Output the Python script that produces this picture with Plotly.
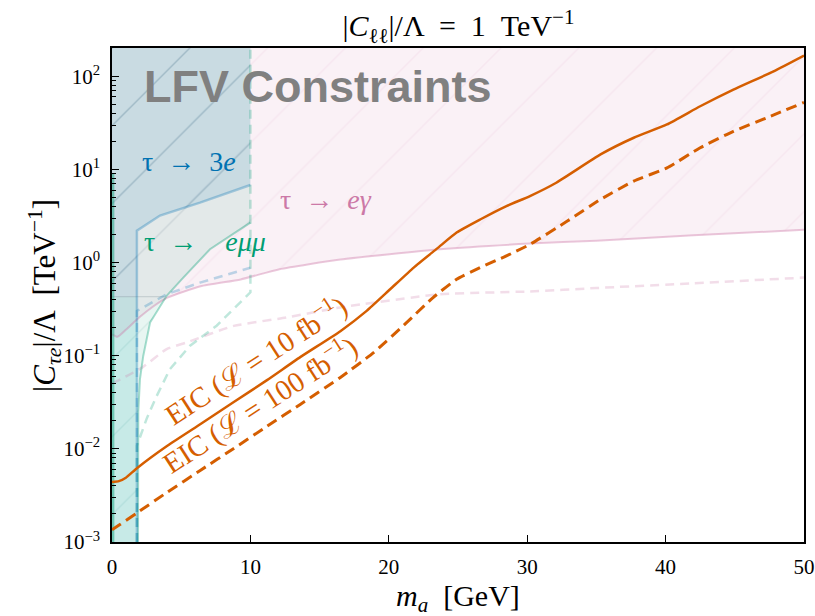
import numpy as np
import plotly.graph_objects as go

# ---------------- data ----------------
Y_BOTTOM = 1e-3
Y_TOP = 1e3  # regions extend beyond the top of the axes

# EIC projected sensitivity, L = 10 fb^-1 (solid)
m_eic10 = [0, 0.5, 1.0, 1.8, 4.0, 6.4, 8.8, 11.2, 13.6, 16.5, 18.4, 20.1, 21.8, 23.5,
           24.9, 26.6, 28.5, 30.2, 32.1, 35.3, 37.7, 40.1, 42.5, 44.9, 47.8, 50]
c_eic10 = [4.4e-3, 4.5e-3, 4.9e-3, 6.2e-3, 1.08e-2, 1.85e-2, 3.18e-2, 5.47e-2, 9.66e-2,
           0.1835, 0.303, 0.517, 0.884, 1.42, 2.1, 2.9, 4.04, 5.18, 7.2, 14.5,
           21.9, 30.4, 47.7, 72, 113, 167]

# EIC projected sensitivity, L = 100 fb^-1 (dashed)
m_eic100 = [0, 0.6, 1.8, 4.0, 6.4, 8.8, 11.2, 13.6, 16.5, 18.9, 21.3, 23.2, 24.9, 26.6,
            28.5, 30.2, 32.9, 35.3, 37.7, 40.1, 42.5, 44.9, 47.3, 50]
c_eic100 = [1.35e-3, 1.55e-3, 2.05e-3, 3.43e-3, 5.9e-3, 1.01e-2, 1.75e-2, 3.0e-2, 5.85e-2,
            0.108, 0.228, 0.421, 0.662, 0.884, 1.18, 1.57, 2.79, 4.77, 7.5, 10.4,
            17.1, 25.7, 35.8, 52.5]

# tau -> e gamma: current bound (solid) and projection (dashed)
m_eg = [0, 0.4, 1.0, 2.0, 3.0, 4.0, 6.4, 9.3, 12.1, 16.5, 23.7, 30.2, 35, 42, 50]
c_eg = [0.17, 0.16, 0.19, 0.26, 0.34, 0.42, 0.557, 0.66, 0.85, 1.08, 1.39, 1.6,
        1.72, 1.96, 2.25]
m_eg_proj = [0, 2.2, 3.95, 5.4, 8.8, 12.6, 16.5, 23.7, 30.2, 35, 42, 50]
c_eg_proj = [0.05, 0.075, 0.118, 0.139, 0.209, 0.257, 0.33, 0.457, 0.49, 0.533,
             0.6, 0.69]

# tau -> e mu mu: current bound (solid) and projection (dashed)
m_emm = [1.88, 1.9, 2.02, 2.26, 2.75, 3.95, 5.15, 7.08, 9.25, 10]
c_emm = [1e-3, 0.025, 0.056, 0.1, 0.227, 0.44, 0.69, 1.39, 2.27, 2.68]
m_emm_edge = [0.06, 0.06]
c_emm_edge = [1e-3, 9.0]
m_emm_proj = [1.8, 1.8, 2.5, 3.23, 4.19, 5.64, 7.56, 10, 10]
c_emm_proj = [1e-3, 0.0108, 0.021, 0.037, 0.072, 0.128, 0.21, 0.48, Y_TOP]

# tau -> 3e: current bound (solid) and projection (dashed)
m_3e = [1.8, 1.8, 3.47, 6.36, 10]
c_3e = [1e-3, 2.2, 3.2, 4.4, 6.8]
m_3e_proj = [1.8, 1.8, 3.95, 6.36, 10]
c_3e_proj = [1e-3, 0.303, 0.457, 0.61, 0.88]
c_3e_low = 0.43   # lower edge of the tau->3e band at small m_a

x_ticks = [0, 10, 20, 30, 40, 50]
y_ticks = [1e-3, 1e-2, 1e-1, 1e0, 1e1, 1e2]
y_ticktext = ["10<sup>−3</sup>", "10<sup>−2</sup>", "10<sup>−1</sup>",
              "10<sup>0</sup>", "10<sup>1</sup>", "10<sup>2</sup>"]
y_minor = [k * 10.0 ** e for e in range(-3, 3) for k in range(2, 10) if k * 10.0 ** e < 200]

# ---------------- styling ----------------
BLUE = "0,114,178"
ORANGE = "#D55E00"
GREEN = "0,158,115"
PINK = "204,121,167"
SERIF = "Liberation Serif, DejaVu Serif, serif"
HATCH = dict(shape="/", size=55, solidity=0.025)

fig = go.Figure()


def poly(xs, ys, fill, hatch_fg=None):
    fig.add_trace(go.Scatter(x=xs, y=ys, mode="lines", line=dict(width=0),
                             fill="toself", fillcolor=fill, hoverinfo="skip",
                             showlegend=False))
    if hatch_fg:
        fig.add_trace(go.Scatter(x=xs, y=ys, mode="lines", line=dict(width=0),
                                 fill="toself", fillcolor="rgba(0,0,0,0)",
                                 fillpattern=dict(**HATCH, fgcolor=hatch_fg,
                                                  bgcolor="rgba(0,0,0,0)"),
                                 hoverinfo="skip", showlegend=False))


def line(xs, ys, color, width, dash="solid", shape="linear"):
    fig.add_trace(go.Scatter(x=xs, y=ys, mode="lines",
                             line=dict(color=color, width=width, dash=dash,
                                       shape=shape, smoothing=0.5),
                             hoverinfo="skip", showlegend=False))


# tau -> e gamma region
poly(m_eg + [m_eg[-1], m_eg[0]], c_eg + [Y_TOP, Y_TOP], f"rgba({PINK},0.10)",
     f"rgba({PINK},0.18)")
# tau -> e mu mu region
poly([0] + m_emm + [m_emm[-1], 0], [Y_BOTTOM] + c_emm + [Y_TOP, Y_TOP],
     f"rgba({GREEN},0.09)", f"rgba(0,110,90,0.18)")
# small-mass band
poly([0, m_3e[0], m_3e[0], 0], [Y_BOTTOM, Y_BOTTOM, c_3e_low, c_3e_low],
     "rgba(0,160,170,0.14)")
# tau -> 3e region
poly([0, m_3e[1]] + m_3e[1:] + [m_3e[-1], 0],
     [c_3e_low, c_3e_low] + c_3e[1:] + [Y_TOP, Y_TOP],
     f"rgba({BLUE},0.115)", "rgba(0,50,90,0.22)")

# boundary lines
line(m_eg_proj, c_eg_proj, f"rgba({PINK},0.25)", 2.5, "9px,6px", "spline")
line(m_eg, c_eg, f"rgba({PINK},0.40)", 2, "solid", "spline")
line(m_emm_edge, c_emm_edge, f"rgba({GREEN},0.45)", 3)
line(m_emm, c_emm, f"rgba({GREEN},0.35)", 2)
line(m_emm_proj, c_emm_proj, f"rgba({GREEN},0.25)", 2.5, "9px,6px")
line([0, 3.8], [c_3e_low, c_3e_low], "rgba(90,110,120,0.25)", 1)
line(m_3e, c_3e, f"rgba({BLUE},0.30)", 2.5)
line(m_3e_proj, c_3e_proj, f"rgba({BLUE},0.25)", 2.5, "9px,6px")

# EIC curves
line(m_eic10, c_eic10, ORANGE, 2.5, "solid", "spline")
line(m_eic100, c_eic100, ORANGE, 3, "11px,6px", "spline")

lg = np.log10
annotations = [
    dict(x=2.15, y=lg(77), text="<b>LFV Constraints</b>", xanchor="left",
         font=dict(family="Liberation Sans, Arial, sans-serif", size=45, color="#808080")),
    dict(x=2.0, y=lg(12.3), text="τ  →  3<i>e</i>", xanchor="left",
         font=dict(family=SERIF, size=28, color="#0072B2")),
    dict(x=2.15, y=lg(1.7), text="τ  →    <i>eμμ</i>", xanchor="left",
         font=dict(family=SERIF, size=28, color="#009E73")),
    dict(x=12.0, y=lg(4.8), text="τ  →  <i>eγ</i>", xanchor="left",
         font=dict(family=SERIF, size=28, color="#CC79A7")),
    dict(x=10.3, y=lg(0.092), text="EIC (ℒ = 10 fb<sup>−1</sup>)", textangle=-33,
         font=dict(family=SERIF, size=29, color=ORANGE)),
    dict(x=10.65, y=lg(0.0305), text="EIC (ℒ = 100 fb<sup>−1</sup>)", textangle=-33,
         font=dict(family=SERIF, size=29, color=ORANGE)),
    dict(xref="paper", yref="paper", x=-0.097, y=0.5, textangle=-90,
         text="|<i>C</i><sub><i>τe</i></sub>|/Λ  [TeV<sup>−1</sup>]",
         font=dict(family=SERIF, size=31, color="black")),
    dict(xref="paper", yref="paper", x=0.5, y=-0.113,
         text="<i>m</i><sub><i>a</i></sub>  [GeV]",
         font=dict(family=SERIF, size=30, color="black")),
]
for a in annotations:
    a.setdefault("xref", "x")
    a.setdefault("yref", "y")
    a.setdefault("showarrow", False)
    a.setdefault("xanchor", "center")
    a.setdefault("yanchor", "middle")

fig.update_layout(
    width=815, height=616,
    margin=dict(l=112, r=11, t=48, b=74, autoexpand=False),
    paper_bgcolor="white", plot_bgcolor="white",
    showlegend=False,
    title=dict(text="|<i>C</i><sub>ℓℓ</sub>|/Λ  =  1  TeV<sup>−1</sup>",
               x=0.5625, xanchor="center", y=0.958, yanchor="middle", yref="container",
               font=dict(family=SERIF, size=30, color="black")),
    annotations=annotations,
    xaxis=dict(range=[0, 50], tickmode="array", tickvals=x_ticks,
               ticks="inside", ticklen=7, tickwidth=1.2, tickcolor="black",
               showline=True, linecolor="black", linewidth=1.5, mirror=True,
               showgrid=False, zeroline=False, ticklabelstandoff=5, automargin=False,
               tickfont=dict(family=SERIF, size=21, color="black")),
    yaxis=dict(type="log", range=[-3, 2.304], tickmode="array", tickvals=y_ticks,
               ticktext=y_ticktext, ticks="inside", ticklen=7, tickwidth=1.2,
               tickcolor="black", showline=True, linecolor="black", linewidth=1.5,
               mirror=True, showgrid=False, zeroline=False, ticklabelstandoff=6,
               automargin=False,
               minor=dict(tickmode="array", tickvals=y_minor, ticks="inside",
                          ticklen=4, tickwidth=1, tickcolor="black", showgrid=False),
               tickfont=dict(family=SERIF, size=21, color="black")),
)

fig.write_html("out.html", config={"displayModeBar": False},
               post_script="document.body.style.margin='0px';")
